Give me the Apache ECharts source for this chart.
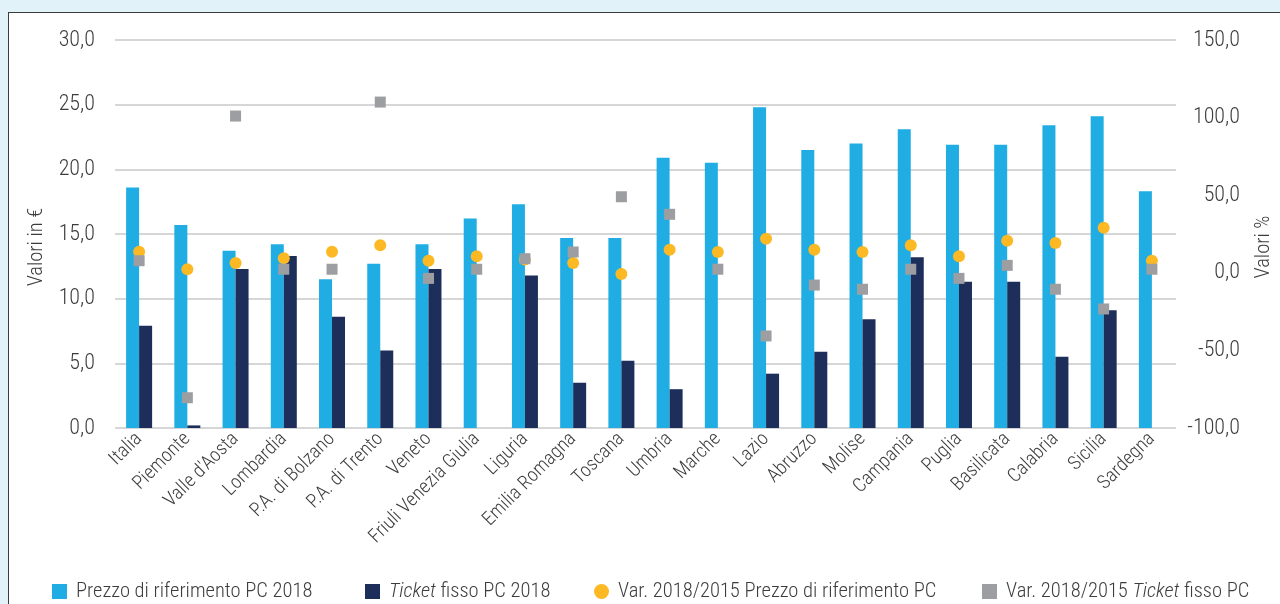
<!DOCTYPE html>
<html>
<head>
<meta charset="utf-8">
<script src="https://cdn.jsdelivr.net/npm/echarts@6/dist/echarts.min.js"></script>
<style>
  html, body { margin: 0; padding: 0; width: 1280px; height: 604px; overflow: hidden; background: #e1f2f9; }
  #panel { position: absolute; left: 8px; top: 12px; width: 1300px; height: 640px; background: #ffffff; border: 1px solid #3c3c3c; }
  #chart { position: absolute; left: 0; top: 0; width: 1280px; height: 604px; }
</style>
</head>
<body>
<div id="panel"></div>
<div id="chart"></div>
<script>
// Regions
const regions = ['Italia', 'Piemonte', "Valle d'Aosta", 'Lombardia', 'P.A. di Bolzano', 'P.A. di Trento',
  'Veneto', 'Friuli Venezia Giulia', 'Liguria', 'Emilia Romagna', 'Toscana', 'Umbria', 'Marche',
  'Lazio', 'Abruzzo', 'Molise', 'Campania', 'Puglia', 'Basilicata', 'Calabria', 'Sicilia', 'Sardegna'];

// Prezzo di riferimento PC 2018 (€)
const prezzoRif2018 = [18.6, 15.7, 13.7, 14.2, 11.5, 12.7, 14.2, 16.2, 17.3, 14.7, 14.7,
  20.9, 20.5, 24.8, 21.5, 22.0, 23.1, 21.9, 21.9, 23.4, 24.1, 18.3];

// Ticket fisso PC 2018 (€)
const ticketFisso2018 = [7.9, 0.2, 12.3, 13.3, 8.6, 6.0, 12.3, null, 11.8, 3.5, 5.2,
  3.0, null, 4.2, 5.9, 8.4, 13.2, 11.3, 11.3, 5.5, 9.1, null];

// Var. 2018/2015 Prezzo di riferimento PC (%)
const varPrezzo = [13.6, 2.3, 6.3, 9.3, 13.6, 17.7, 7.8, 10.6, 8.5, 6.3, -0.8,
  14.9, 13.4, 22.0, 14.9, 13.4, 17.7, 10.6, 20.7, 19.2, 29.1, 7.8];

// Var. 2018/2015 Ticket fisso PC (%)
const varTicket = [7.8, -80.5, 101.0, 2.3, 2.3, 110.0, -3.6, 2.3, 9.1, 13.4, 49.0,
  37.7, 2.3, -40.7, -7.9, -10.6, 2.3, -3.6, 4.8, -10.6, -23.3, 2.3];

// Axis ticks
const leftTicks = { min: 0, max: 30, interval: 5 };
const rightTicks = { min: -100, max: 150, interval: 50 };

const names = ['Prezzo di riferimento PC 2018', 'Ticket fisso PC 2018',
  'Var. 2018/2015 Prezzo di riferimento PC', 'Var. 2018/2015 Ticket fisso PC'];

const FONT = '"Roboto Condensed", "Liberation Sans Narrow", sans-serif';
const WEIGHT = 300;
const TXT = '#3d3d3d';
const fmt = v => v.toFixed(1).replace('.', ',');

const LEG_SIZE = 20.5;
const legendText = {
  fontFamily: FONT, fontSize: LEG_SIZE, fontWeight: WEIGHT, color: TXT, padding: [0, 0, 0, 4],
  rich: { i: { fontFamily: FONT, fontSize: LEG_SIZE, fontWeight: WEIGHT, color: TXT, fontStyle: 'italic' },
          n: { fontFamily: FONT, fontSize: LEG_SIZE, fontWeight: WEIGHT, color: TXT } }
};
// "Ticket" is set in italics inside the legend labels
const legendFmt = name => name.includes('Ticket')
  ? name.replace(/(.*)Ticket(.*)/, (m, a, b) => (a ? '{n|' + a + '}' : '') + '{i|Ticket}{n|' + b + '}')
  : name;

function legendAt(name, left, icon) {
  return {
    data: [name], left: left, top: 581, padding: 0, icon: icon,
    itemWidth: 15, itemHeight: 15, textStyle: legendText, formatter: legendFmt,
    selectedMode: false
  };
}

const labelStyle = { fontFamily: FONT, fontWeight: WEIGHT, color: TXT };

const chart = echarts.init(document.getElementById('chart'), null, { renderer: 'canvas' });
chart.setOption({
  backgroundColor: 'transparent',
  animation: false,
  textStyle: { fontFamily: FONT },
  grid: { left: 115, right: 104, top: 40, bottom: 176, containLabel: false, outerBoundsMode: 'none' },
  legend: [
    legendAt(names[0], 52, 'rect'),
    legendAt(names[1], 365, 'rect'),
    legendAt(names[2], 594, 'circle'),
    legendAt(names[3], 982, 'rect')
  ],
  xAxis: {
    type: 'category', data: regions,
    axisLine: { show: false }, axisTick: { show: false },
    axisLabel: Object.assign({ rotate: 45, interval: 0, margin: 8, fontSize: 19.5 }, labelStyle)
  },
  yAxis: [
    {
      type: 'value', min: leftTicks.min, max: leftTicks.max, interval: leftTicks.interval,
      name: 'Valori in €', nameLocation: 'middle', nameGap: 54, nameRotate: 90,
      nameTextStyle: Object.assign({ fontSize: 20.5, padding: [0, 26, 0, 0] }, labelStyle),
      axisLine: { show: false }, axisTick: { show: false },
      axisLabel: Object.assign({ margin: 20, fontSize: 22, formatter: fmt }, labelStyle),
      splitLine: { lineStyle: { color: '#d6d6d6', width: 2 } }
    },
    {
      type: 'value', position: 'right', min: rightTicks.min, max: rightTicks.max, interval: rightTicks.interval,
      name: 'Valori %', nameLocation: 'middle', nameGap: 77, nameRotate: 90,
      nameTextStyle: Object.assign({ fontSize: 20.5, padding: [0, 26, 0, 0] }, labelStyle),
      axisLine: { show: false }, axisTick: { show: false },
      axisLabel: Object.assign({ margin: 64, align: 'right', fontSize: 22, formatter: fmt }, labelStyle),
      splitLine: { show: false }
    }
  ],
  series: [
    { name: names[0], type: 'bar', data: prezzoRif2018, barWidth: 13, barGap: '0%',
      itemStyle: { color: '#1fade3' } },
    { name: names[1], type: 'bar', data: ticketFisso2018, barWidth: 13, barGap: '0%',
      itemStyle: { color: '#1c2e59' } },
    { name: names[2], type: 'scatter', yAxisIndex: 1, data: varPrezzo, symbol: 'circle', symbolSize: 12,
      itemStyle: { color: '#fcb924', opacity: 1 }, z: 3 },
    { name: names[3], type: 'scatter', yAxisIndex: 1, data: varTicket, symbol: 'rect', symbolSize: 11,
      itemStyle: { color: '#9c9ea1', opacity: 1 }, z: 4 }
  ]
});
</script>
</body>
</html>
